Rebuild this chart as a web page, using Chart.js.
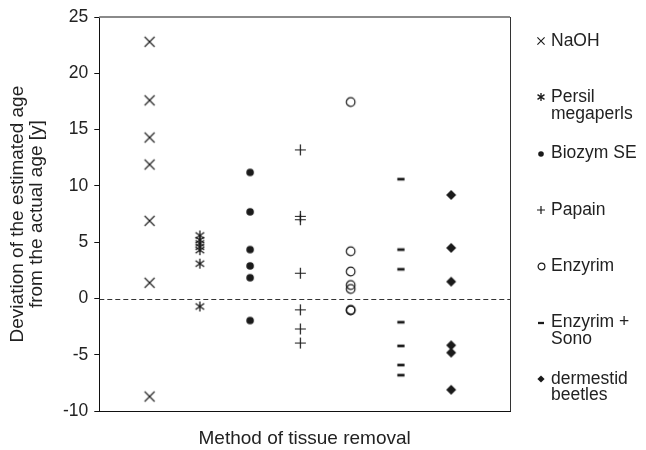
<!DOCTYPE html>
<html>
<head>
<meta charset="utf-8">
<script src="https://cdn.jsdelivr.net/npm/chart.js@4/dist/chart.umd.min.js"></script>
<style>
  html, body { margin: 0; padding: 0; background: #fff; }
  #wrap { width: 646px; height: 450px; position: relative; }
</style>
</head>
<body>
<div id="wrap"><canvas id="c" width="646" height="450"></canvas></div>
<script>
// ---- data ----
const methods = ['NaOH', 'Persil megaperls', 'Biozym SE', 'Papain', 'Enzyrim', 'Enzyrim + Sono', 'dermestid beetles'];
const legendLabels = [['NaOH'], ['Persil', 'megaperls'], ['Biozym SE'], ['Papain'], ['Enzyrim'], ['Enzyrim +', 'Sono'], ['dermestid', 'beetles']];
const naoh = [22.8, 17.6, 14.3, 11.9, 6.9, 1.4, -8.7];
const persil = [5.6, 5.2, 4.9, 4.6, 4.3, 3.1, -0.7];
const biozym = [11.2, 7.7, 4.35, 2.9, 1.85, -1.95];
const papain = [13.2, 7.3, 7.0, 2.25, -1.0, -2.7, -3.95];
const enzyrim = [17.45, 4.2, 2.4, 1.2, 0.85, -1.0, -1.05];
const enzyrimSono = [10.6, 4.35, 2.6, -2.1, -4.2, -5.9, -6.8];
const dermestid = [9.2, 4.5, 1.5, -4.15, -4.8, -8.1];
const yTicks = [25, 20, 15, 10, 5, 0, -5, -10];
const yTitle = ['Deviation of the estimated age', 'from the actual age [y]'];
const xTitle = 'Method of tissue removal';

const seriesValues = [naoh, persil, biozym, papain, enzyrim, enzyrimSono, dermestid];
const symbolTypes = ['x', 'asterisk', 'dot', 'plus', 'circle', 'dash', 'diamond'];

// ---- symbols ----
const INK = '#1a1a1a';
function makeSymbol(type, s) {
  const size = Math.ceil(s * 2 + 4);
  const cv = document.createElement('canvas');
  cv.width = size; cv.height = size;
  const g = cv.getContext('2d');
  const c = size / 2;
  g.strokeStyle = INK; g.fillStyle = INK; g.lineWidth = 1.1;
  g.beginPath();
  if (type === 'x') {
    g.moveTo(c - s, c - s); g.lineTo(c + s, c + s);
    g.moveTo(c + s, c - s); g.lineTo(c - s, c + s); g.stroke();
  } else if (type === 'asterisk') {
    g.lineWidth = 1.3;
    g.moveTo(c, c - s); g.lineTo(c, c + s);
    const dx = s * 0.87, dy = s * 0.6;
    g.moveTo(c - dx, c - dy); g.lineTo(c + dx, c + dy);
    g.moveTo(c + dx, c - dy); g.lineTo(c - dx, c + dy); g.stroke();
  } else if (type === 'dot') {
    g.arc(c, c, s, 0, Math.PI * 2); g.fill();
  } else if (type === 'plus') {
    g.lineWidth = 1.2;
    g.moveTo(c - s, c); g.lineTo(c + s, c);
    g.moveTo(c, c - s); g.lineTo(c, c + s); g.stroke();
  } else if (type === 'circle') {
    g.lineWidth = 1.2;
    g.arc(c, c, s, 0, Math.PI * 2); g.stroke();
  } else if (type === 'dash') {
    g.fillRect(c - s, c - s * 0.38, s * 2, s * 0.76);
  } else if (type === 'diamond') {
    g.moveTo(c, c - s); g.lineTo(c + s, c); g.lineTo(c, c + s); g.lineTo(c - s, c); g.closePath(); g.fill();
  }
  return cv;
}
const plotSizes = { x: 5, asterisk: 5, dot: 3.8, plus: 5.5, circle: 4.3, dash: 3.6, diamond: 5 };
const legendSizes = { x: 3.6, asterisk: 4, dot: 2.8, plus: 4, circle: 3.4, dash: 3, diamond: 3.6 };

const datasets = seriesValues.map((vals, i) => ({
  label: methods[i],
  data: vals.map(v => ({ x: i + 1, y: v })),
  pointStyle: makeSymbol(symbolTypes[i], plotSizes[symbolTypes[i]]),
  showLine: false
}));
const legendSymbols = symbolTypes.map(t => makeSymbol(t, legendSizes[t]));

const FONT = "'Liberation Sans', Arial, Helvetica, sans-serif";

const framePlugin = {
  id: 'frame',
  beforeDatasetsDraw(chart) {
    const { ctx, chartArea: a, scales } = chart;
    const y0 = scales.y.getPixelForValue(0);
    ctx.save();
    ctx.strokeStyle = '#333'; ctx.lineWidth = 1; ctx.setLineDash([5, 3]);
    ctx.beginPath(); ctx.moveTo(a.left, Math.round(y0) + 0.5); ctx.lineTo(a.right, Math.round(y0) + 0.5); ctx.stroke();
    ctx.setLineDash([]);
    ctx.strokeStyle = '#8a8a8a'; ctx.lineWidth = 2;
    ctx.beginPath(); ctx.moveTo(a.left, a.top); ctx.lineTo(a.right, a.top); ctx.stroke();
    ctx.strokeStyle = '#333'; ctx.lineWidth = 1;
    ctx.beginPath(); ctx.moveTo(Math.round(a.right) + 0.5, a.top); ctx.lineTo(Math.round(a.right) + 0.5, a.bottom); ctx.stroke();
    ctx.restore();
  },
  afterDraw(chart) {
    const { ctx, chartArea: a } = chart;
    ctx.save();
    ctx.font = '17.5px ' + FONT;
    ctx.fillStyle = '#222';
    ctx.textBaseline = 'middle';
    const symX = a.right + 31, txtX = a.right + 41;
    legendLabels.forEach((lines, i) => {
      const y = 41 + i * 56.3;
      const sym = legendSymbols[i];
      ctx.drawImage(sym, Math.round(symX - sym.width / 2), Math.round(y - sym.height / 2));
      lines.forEach((ln, j) => ctx.fillText(ln, txtX, y + j * 16.5));
    });
    ctx.restore();
  }
};

new Chart(document.getElementById('c'), {
  type: 'scatter',
  data: { datasets },
  options: {
    responsive: false,
    animation: false,
    devicePixelRatio: 1,
    layout: { padding: { top: 17, right: 136, left: 8, bottom: 0 } },
    plugins: { legend: { display: false }, tooltip: { enabled: false } },
    scales: {
      x: {
        type: 'linear', min: 0, max: 8.17,
        ticks: { display: false },
        grid: { display: false },
        border: { display: true, color: '#111', width: 1 },
        title: { display: true, text: xTitle, color: '#222', font: { family: FONT, size: 19 }, padding: { top: 8, bottom: 0 } }
      },
      y: {
        type: 'linear', min: -10, max: 25,
        afterBuildTicks(scale) { scale.ticks = yTicks.map(v => ({ value: v })); },
        ticks: { color: '#222', font: { family: FONT, size: 17.5 }, padding: 6 },
        grid: { display: true, drawOnChartArea: false, drawTicks: true, tickLength: 5, color: '#111' },
        border: { display: true, color: '#111', width: 1 },
        title: { display: true, text: yTitle, color: '#222', font: { family: FONT, size: 19, lineHeight: 1.0 }, padding: { top: 0, bottom: 11 } }
      }
    }
  },
  plugins: [framePlugin]
});
</script>
</body>
</html>
